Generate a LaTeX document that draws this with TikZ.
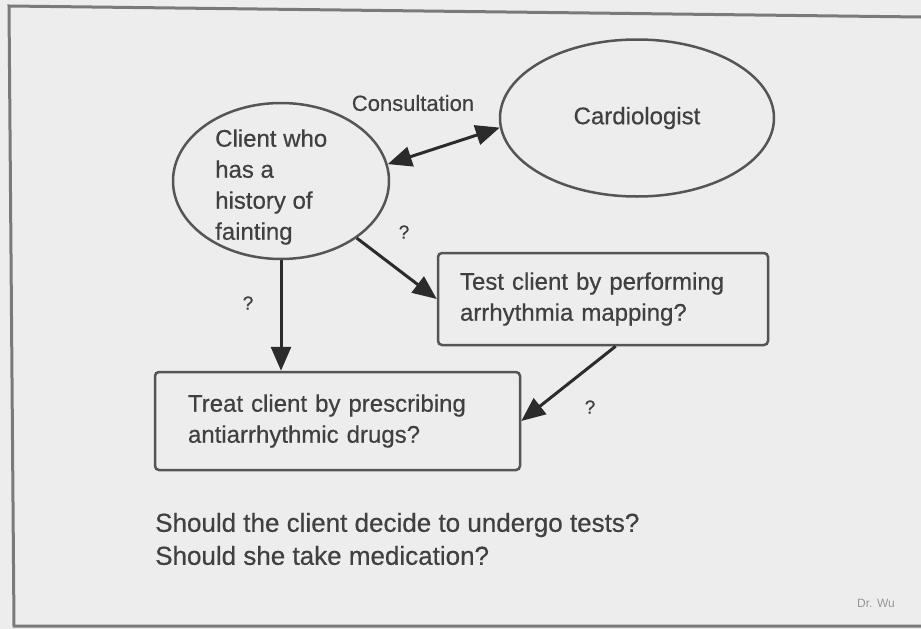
\documentclass[tikz,border=0pt]{standalone}
\usepackage{fontspec}
\setmainfont{Liberation Sans}
\newfontfamily\heavy{Liberation Sans}[FakeBold=0.5]
\usetikzlibrary{shapes.geometric,arrows.meta}
\definecolor{bg}{HTML}{EDEDED}
\definecolor{ink}{HTML}{404040}
\definecolor{edge}{HTML}{555555}
\definecolor{arr}{HTML}{2B2B2B}
\definecolor{frame}{HTML}{7A7A7A}
\begin{document}
\begin{tikzpicture}[x=1pt,y=-1pt,
  txt/.style={text=ink,font=\heavy\fontsize{24}{31}\selectfont},
  oval/.style={ellipse,draw=edge,line width=2.5pt,inner sep=0pt,txt},
  box/.style={rectangle,rounded corners=4pt,draw=edge,line width=2.5pt,txt,align=left},
  link/.style={draw=arr,line width=3pt,-{Triangle[length=24pt,width=20pt]}},
  qmark/.style={text=ink,font=\heavy\fontsize{19}{19}\selectfont},
]
\fill[bg] (0,0) rectangle (921,629);
\useasboundingbox (0,0) rectangle (921,629);
\draw[frame,line width=3pt] (921,17) -- (9,6) -- (14,626) -- (921,626);

\node[oval,minimum width=216pt,minimum height=156pt] (client) at (281,181) {};
\node[txt,align=left,inner sep=0pt,anchor=west] (clienttext) at (215,187) {Client who\\has a\\history of\\fainting};
\node[oval,minimum width=274pt,minimum height=157pt] (cardio) at (637,118) {Cardiologist};
\node[box,text width=299pt,inner xsep=33pt,minimum width=365pt,minimum height=98pt] (treat) at (337.5,421) {Treat client by prescribing\\antiarrhythmic drugs?};
\node[box,text width=286pt,inner xsep=22pt,minimum width=330pt,minimum height=92pt] (test) at (603,299) {Test client by performing\\arrhythmia mapping?};

\node[text=ink,font=\heavy\fontsize{22}{22}\selectfont] (consult) at (413,103) {Consultation};
\node[qmark] (q1) at (404,232) {?};
\node[qmark] (q2) at (248,303) {?};
\node[qmark] (q3) at (590,407) {?};

\node[anchor=west,inner sep=0pt,text=ink,font=\heavy\fontsize{26}{33}\selectfont,align=left] (question) at (155,539) {Should the client decide to undergo tests?\\Should she take medication?};
\node[text=ink!55,font=\fontsize{12}{12}\selectfont] (sig) at (876,603) {Dr. Wu};

\draw[draw=arr,line width=3pt,{Triangle[length=24pt,width=20pt]}-{Triangle[length=24pt,width=20pt]}] (client.9) -- (cardio.184);
\draw[link] (client.-37) -- (test.west);
\draw[link] (client.south) -- (client.south |- treat.north);
\draw[link] (test.-75) -- (treat.east);
\end{tikzpicture}
\end{document}
